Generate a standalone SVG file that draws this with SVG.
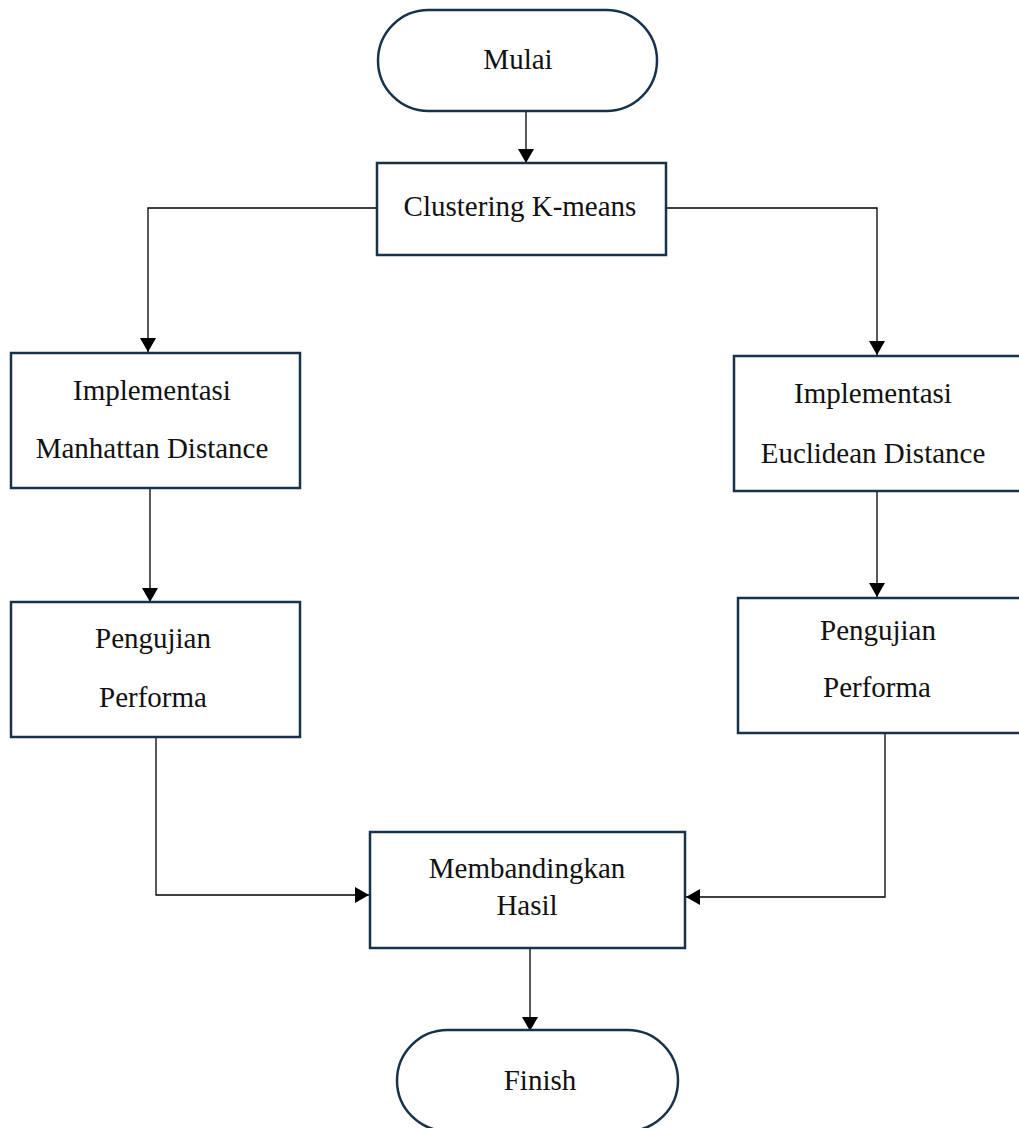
<svg xmlns="http://www.w3.org/2000/svg" width="1019" height="1128" viewBox="0 0 1019 1128">
<style>
.box{fill:#fff;stroke:#17324a;stroke-width:2.5}
.conn{fill:none;stroke:#000;stroke-width:1.3}
.t{font-family:"Liberation Serif","Times New Roman",serif;font-size:29px;fill:#111;text-anchor:middle}
</style>
<defs>
<marker id="arr" markerUnits="userSpaceOnUse" markerWidth="16" markerHeight="16" viewBox="0 0 14 16" refX="14" refY="8" orient="auto">
<path d="M0,0 L14,8 L0,16 Z" fill="#000"/>
</marker>
</defs>
<rect width="1019" height="1128" fill="#fff"/>
<g id="connectors">
<path class="conn" d="M526,111 V163" marker-end="url(#arr)"/>
<path class="conn" d="M377,208 H148 V352" marker-end="url(#arr)"/>
<path class="conn" d="M666,208 H877 V355" marker-end="url(#arr)"/>
<path class="conn" d="M150,488 V602" marker-end="url(#arr)"/>
<path class="conn" d="M877,491 V597" marker-end="url(#arr)"/>
<path class="conn" d="M156,737 V895 H369" marker-end="url(#arr)"/>
<path class="conn" d="M885,733 V897 H686" marker-end="url(#arr)"/>
<path class="conn" d="M530,948 V1031" marker-end="url(#arr)"/>
</g>
<g id="mulai">
<rect class="box" x="378" y="10" width="279" height="101" rx="50.5"/>
<text class="t" x="518" y="69">Mulai</text>
</g>
<g id="clustering">
<rect class="box" x="377" y="163" width="289" height="92"/>
<text class="t" x="520" y="216">Clustering K-means</text>
</g>
<g id="manhattan">
<rect class="box" x="11" y="353" width="289" height="135"/>
<text class="t" x="152" y="400">Implementasi</text>
<text class="t" x="152" y="458">Manhattan Distance</text>
</g>
<g id="euclidean">
<rect class="box" x="734" y="356" width="300" height="135"/>
<text class="t" x="873" y="403">Implementasi</text>
<text class="t" x="873" y="463">Euclidean Distance</text>
</g>
<g id="pengujian-left">
<rect class="box" x="11" y="602" width="289" height="135"/>
<text class="t" x="153" y="648">Pengujian</text>
<text class="t" x="153" y="707">Performa</text>
</g>
<g id="pengujian-right">
<rect class="box" x="738" y="598" width="300" height="135"/>
<text class="t" x="878" y="640">Pengujian</text>
<text class="t" x="877" y="697">Performa</text>
</g>
<g id="membandingkan">
<rect class="box" x="370" y="832" width="315" height="116"/>
<text class="t" x="527" y="878">Membandingkan</text>
<text class="t" x="527" y="915">Hasil</text>
</g>
<g id="finish">
<rect class="box" x="397" y="1030" width="281" height="101" rx="50.5"/>
<text class="t" x="540" y="1090">Finish</text>
</g>
</svg>
